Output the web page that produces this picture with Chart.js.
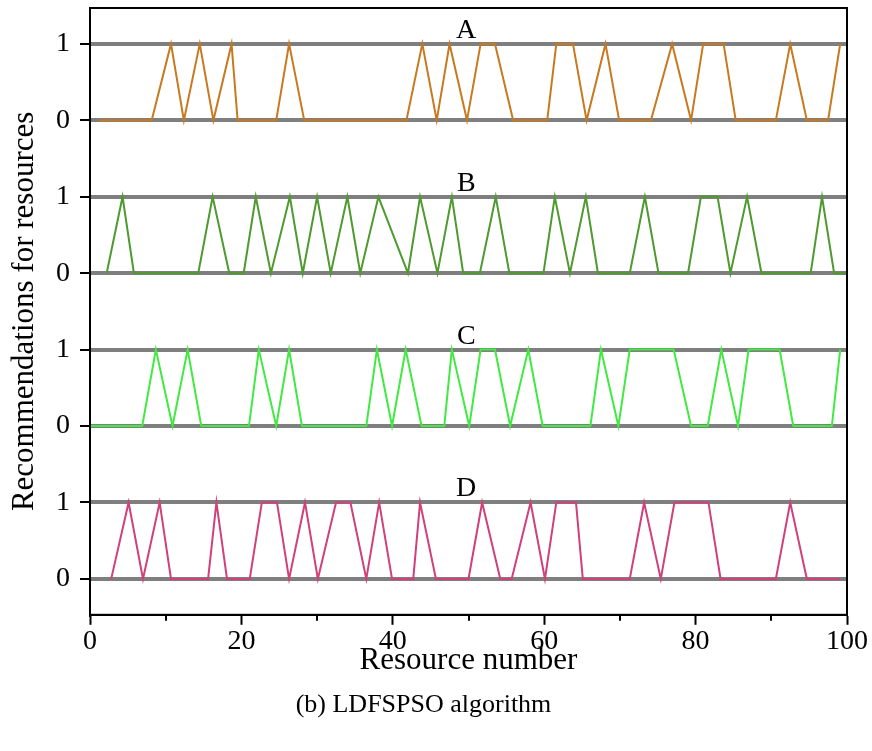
<!DOCTYPE html>
<html>
<head>
<meta charset="utf-8">
<script src="https://cdn.jsdelivr.net/npm/chart.js@4.4.0/dist/chart.umd.min.js"></script>
<style>
  body { margin: 0; background: #fff; }
  #wrap { width: 872px; height: 751px; }
</style>
</head>
<body>
<div id="wrap"><canvas id="myChart"></canvas></div>
<script>
// series names, vertical offsets and colours
const seriesNames = ['A', 'B', 'C', 'D'];
const seriesOffsets = [6, 4, 2, 0];
const seriesColors = ['#C8781E', '#4E9A2E', '#40EA40', '#D0407A'];

// recommendation traces (resource number / 0-1 value)
const aX = [1.1, 8.15, 10.7, 12.4, 14.5, 16.3, 18.7, 19.5, 24.6, 26.3, 28.3, 41.8, 43.9, 45.8, 47.5, 49.8, 51.6, 53.5, 55.9, 60.4, 61.6, 63.8, 65.6, 68.1, 69.9, 74.1, 76.9, 79.4, 81.0, 83.7, 85.3, 90.6, 92.5, 94.7, 97.5, 99.1];
const aY = [0, 0, 1, 0, 1, 0, 1, 0, 0, 1, 0, 0, 1, 0, 1, 0, 1, 1, 0, 0, 1, 1, 0, 1, 0, 0, 1, 0, 1, 1, 0, 0, 1, 0, 0, 1];

const bX = [2.2, 4.3, 5.8, 14.3, 16.2, 18.4, 20.3, 21.9, 23.9, 26.4, 28.1, 30.0, 31.8, 34.0, 35.7, 38.1, 42.0, 43.6, 45.9, 47.8, 49.3, 51.5, 53.6, 55.4, 59.9, 61.4, 63.4, 65.5, 67.1, 71.3, 73.3, 75.1, 79.0, 80.7, 82.9, 84.6, 86.8, 88.7, 95.2, 96.7, 98.3, 100];
const bY = [0, 1, 0, 0, 1, 0, 0, 1, 0, 1, 0, 1, 0, 1, 0, 1, 0, 1, 0, 1, 0, 0, 1, 0, 0, 1, 0, 1, 0, 0, 1, 0, 0, 1, 1, 0, 1, 0, 0, 1, 0, 0];

const cX = [0, 6.9, 8.7, 10.9, 12.9, 14.7, 21.0, 22.3, 24.6, 26.3, 28.0, 36.5, 37.9, 39.9, 41.7, 43.8, 46.8, 47.8, 50.1, 51.6, 53.5, 55.5, 57.9, 59.8, 66.1, 67.5, 69.8, 71.3, 77.1, 79.4, 81.6, 83.4, 85.6, 87.0, 91.1, 92.9, 98.0, 99.1];
const cY = [0, 0, 1, 0, 1, 0, 0, 1, 0, 1, 0, 0, 1, 0, 1, 0, 0, 1, 0, 1, 1, 0, 1, 0, 0, 1, 0, 1, 1, 0, 0, 1, 0, 1, 1, 0, 0, 1];

const dX = [2.8, 5.1, 7.0, 9.2, 10.7, 15.6, 16.7, 18.1, 21.1, 22.7, 24.7, 26.3, 28.4, 30.1, 32.5, 34.4, 36.5, 38.2, 39.9, 42.7, 43.6, 45.7, 50.0, 51.8, 54.2, 55.7, 58.2, 60.1, 61.6, 64.2, 65.1, 71.3, 73.2, 75.4, 77.2, 81.7, 83.3, 90.6, 92.5, 94.7, 99.1];
const dY = [0, 1, 0, 1, 0, 0, 1, 0, 0, 1, 1, 0, 1, 0, 1, 1, 0, 1, 0, 0, 1, 0, 0, 1, 0, 0, 1, 0, 1, 1, 0, 0, 1, 0, 1, 1, 0, 0, 1, 0, 0];

// axis ticks
const xMajorTicks = [0, 20, 40, 60, 80, 100];
const xMinorTicks = [10, 30, 50, 70, 90];
const yTickValues = [0, 1, 2, 3, 4, 5, 6, 7];
const yTickLabels = ['0', '1', '0', '1', '0', '1', '0', '1'];
const labelX = 49.7;

const serif = "'Liberation Serif', 'Times New Roman', serif";
Chart.defaults.font.family = serif;
Chart.defaults.color = '#000';

const traces = [[aX, aY], [bX, bY], [cX, cY], [dX, dY]];
const datasets = traces.map(([xs, ys], i) => ({
    label: seriesNames[i],
    data: xs.map((x, k) => ({ x: x, y: ys[k] + seriesOffsets[i] })),
    borderColor: seriesColors[i],
    borderWidth: 2,
    pointRadius: 0,
    tension: 0,
    fill: false
}));

// frame, minor ticks and series letters
const decorPlugin = {
    id: 'decor',
    afterDraw(chart) {
        const { ctx, chartArea: a, scales } = chart;
        ctx.save();
        ctx.strokeStyle = '#000';
        ctx.lineWidth = 2;
        ctx.strokeRect(a.left, a.top, a.right - a.left, a.bottom - a.top);
        ctx.beginPath();
        xMinorTicks.forEach(v => {
            const px = Math.round(scales.x.getPixelForValue(v));
            ctx.moveTo(px, a.bottom);
            ctx.lineTo(px, a.bottom + 6);
        });
        ctx.stroke();
        ctx.font = '28px ' + serif;
        ctx.fillStyle = '#000';
        ctx.textAlign = 'center';
        ctx.textBaseline = 'alphabetic';
        seriesNames.forEach((n, i) => {
            const px = scales.x.getPixelForValue(labelX);
            const py = scales.y.getPixelForValue(seriesOffsets[i] + 1);
            ctx.fillText(n, px, py - 6);
        });
        ctx.restore();
    }
};

function drawChart() {
    const ctx = document.getElementById('myChart').getContext('2d');
    new Chart(ctx, {
        type: 'line',
        data: { datasets: datasets },
        plugins: [decorPlugin],
        options: {
            responsive: true,
            maintainAspectRatio: false,
            animation: false,
            layout: { padding: { top: 8, right: 25, left: 0, bottom: 0 } },
            plugins: {
                legend: { display: false },
                tooltip: { enabled: false },
                title: {
                    display: true,
                    position: 'bottom',
                    text: '(b) LDFSPSO algorithm',
                    font: { size: 26, weight: 'normal', family: serif },
                    padding: { top: 0, bottom: 30 }
                }
            },
            scales: {
                x: {
                    type: 'linear',
                    min: 0,
                    max: 100,
                    afterBuildTicks: s => { s.ticks = xMajorTicks.map(v => ({ value: v })); },
                    afterFit: s => { s.height = 75; s.paddingLeft = 0; s.paddingRight = 0; },
                    grid: { drawOnChartArea: false, tickLength: 10, tickColor: '#000', tickWidth: 2 },
                    border: { color: '#000', width: 2 },
                    ticks: { font: { size: 28 }, padding: 0, maxRotation: 0 },
                    title: {
                        display: true,
                        text: 'Resource number',
                        font: { size: 31 },
                        padding: { top: 0, bottom: 10 }
                    }
                },
                y: {
                    type: 'linear',
                    min: -0.47,
                    max: 7.47,
                    afterBuildTicks: s => { s.ticks = yTickValues.map(v => ({ value: v })); },
                    afterFit: s => { s.width = 90; s.paddingTop = 0; s.paddingBottom = 0; },
                    grid: { color: '#7f7f7f', lineWidth: 4, tickLength: 10, tickColor: '#000', tickWidth: 2 },
                    border: { color: '#000', width: 2 },
                    ticks: {
                        font: { size: 28 },
                        padding: 10,
                        callback: (v, i) => yTickLabels[i]
                    },
                    title: {
                        display: true,
                        text: 'Recommendations for resources',
                        font: { size: 31 },
                        padding: { top: 6, bottom: 0 }
                    }
                }
            }
        }
    });
}

window.onload = drawChart;
</script>
</body>
</html>
